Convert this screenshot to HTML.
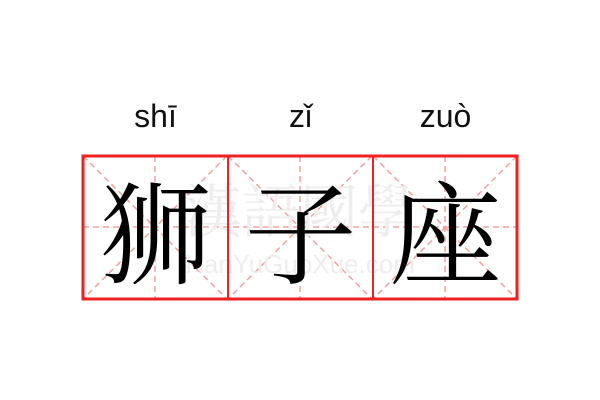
<!DOCTYPE html>
<html><head><meta charset="utf-8"><style>
body{margin:0;width:600px;height:400px;background:#fff;overflow:hidden;position:relative}
.py{position:absolute;top:98px;width:145px;text-align:center;font:32px "Liberation Sans","DejaVu Sans",sans-serif;color:#111}
.ch{position:absolute;top:163px;width:145px;text-align:center;font:112px/130px "Noto Serif CJK SC","AR PL UKai CN",serif;color:#000}
</style></head><body>
<div class="py" style="left:83px">shī</div>
<div class="py" style="left:228px">zǐ</div>
<div class="py" style="left:373px">zuò</div>
<svg width="600" height="400" style="position:absolute;left:0;top:0">
<g stroke="#f4a0a0" stroke-width="1.5" stroke-dasharray="6,4" fill="none">
<line x1="83" y1="227" x2="517" y2="227"/>
<line x1="155" y1="156" x2="155" y2="299"/>
<line x1="300" y1="156" x2="300" y2="299"/>
<line x1="445" y1="156" x2="445" y2="299"/>
<line x1="83" y1="156" x2="227" y2="299"/><line x1="227" y1="156" x2="83" y2="299"/>
<line x1="228" y1="156" x2="372" y2="299"/><line x1="372" y1="156" x2="228" y2="299"/>
<line x1="373" y1="156" x2="517" y2="299"/><line x1="517" y1="156" x2="373" y2="299"/>
</g>
<text x="300" y="232" text-anchor="middle" font-family="Noto Serif CJK TC,serif" font-size="58" fill="#eee">漢語國學</text>
<text x="300" y="273" text-anchor="middle" font-family="Liberation Sans,sans-serif" font-size="26" fill="#eee">HanYuGuoXue.com</text>
</svg>
<div class="ch" style="left:83px">狮</div>
<div class="ch" style="left:228px">子</div>
<div class="ch" style="left:373px">座</div>
<svg width="600" height="400" style="position:absolute;left:0;top:0">
<rect x="83" y="156" width="434" height="143" fill="none" stroke="#ee2222" stroke-width="3"/>
<line x1="228" y1="156" x2="228" y2="299" stroke="#ee2222" stroke-width="2"/>
<line x1="373" y1="156" x2="373" y2="299" stroke="#ee2222" stroke-width="2"/>
</svg>
</body></html>
